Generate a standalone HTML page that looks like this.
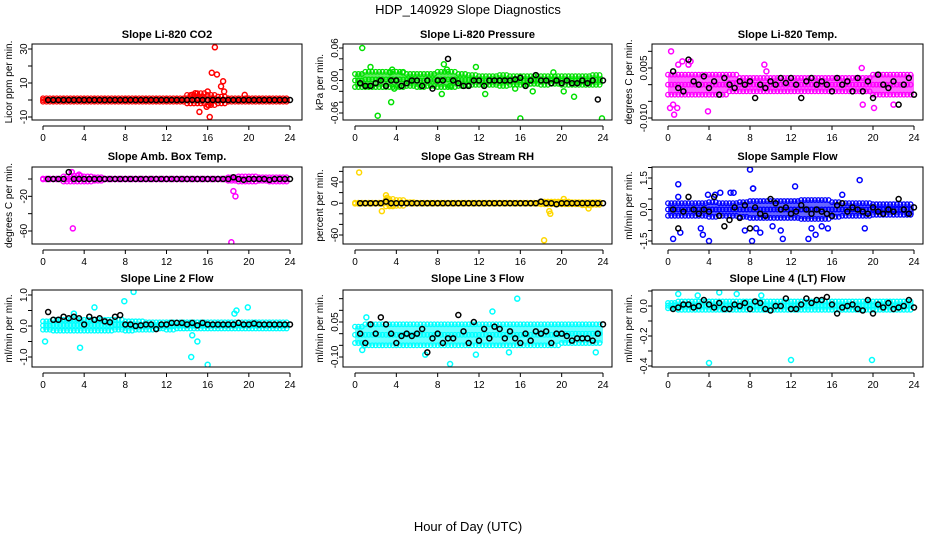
<!DOCTYPE html>
<html><head><meta charset="utf-8"><style>
body{margin:0;background:#fff;}
svg{display:block;font-family:"Liberation Sans",sans-serif;}
</style></head><body>
<svg id="chart" width="936" height="540" viewBox="0 0 936 540">
<text x="468" y="14" text-anchor="middle" font-size="13">HDP_140929  Slope Diagnostics</text>
<text x="468" y="531" text-anchor="middle" font-size="13">Hour of Day (UTC)</text>
</svg>
<script>
// ---- data ----
const xTicks=[0,4,8,12,16,20,24];
const titles=["Slope Li-820 CO2","Slope Li-820 Pressure","Slope Li-820 Temp.","Slope Amb. Box Temp.","Slope Gas Stream RH","Slope Sample Flow","Slope Line 2 Flow","Slope Line 3 Flow","Slope Line 4 (LT) Flow"];
const yTitles=["Licor ppm per min.","kPa per min.","degrees C per min.","degrees C per min.","percent per min.","ml/min per min.","ml/min per min.","ml/min per min.","ml/min per min."];
const colors=["#ff0000","#00e000","#ff00ff","#ff00ff","#ffd700","#0000ff","#00ffff","#00ffff","#00ffff"];
const yTicks=[[30,20,10,0,-10],[0.06,0.04,0.02,0,-0.02,-0.04,-0.06],[0.01,0.005,0,-0.005,-0.01],[0,-20,-40,-60],[60,40,20,0,-20,-40,-60],[2,1.5,1,0.5,0,-0.5,-1,-1.5],[1,0.5,0,-0.5,-1],[0.15,0.1,0.05,0,-0.05,-0.1],[0.1,0,-0.1,-0.2,-0.3,-0.4]];
const yLabels=[["30","10","-10"],["0.06","0.00","-0.06"],["0.005","-0.010"],["-20","-60"],["40","0","-60"],["1.5","0.0","-1.5"],["1.0","0.0","-1.0"],["0.05","-0.10"],["0.0","-0.2","-0.4"]];
const yLabelVals=[[30,10,-10],[0.06,0,-0.06],[0.005,-0.01],[-20,-60],[40,0,-60],[1.5,0,-1.5],[1,0,-1],[0.05,-0.1],[0,-0.2,-0.4]];
const black1=[0,0,0,0,0,0,0,0,0,0,0,0,0,0,0,0,0,0,0,0,0,0,0,0,0,0,0,0,0,0,0,0,0,0,0,0,0,0,0,0,0,0,0,0,0,0,0,0];
const black2=[-0.005,-0.01,-0.01,-0.005,0,-0.01,0,0,-0.01,-0.005,0,0,-0.01,0,-0.015,0,0,0.04,0,-0.005,-0.01,-0.01,0,0,-0.01,0,0,0,0,0,0.002,0.005,-0.01,0,0.01,0,0,-0.005,0,-0.005,0,-0.005,-0.005,0,-0.005,0,-0.035,0];
const black3=[0.004,-0.001,-0.002,0.0075,0.001,0,0.0025,-0.001,0.001,-0.003,0.002,0,-0.001,0.001,0,0.001,-0.004,0,-0.001,0.001,0,0.002,0.0005,0.002,0,-0.004,0.001,0.002,0,0.001,0,-0.002,0.002,0,0.001,-0.002,0.002,-0.002,0.001,-0.004,0.003,0,-0.001,0.001,-0.006,0,0.002,-0.003];
const black4=[0,0,0,0,8,0,0,0,0,0,0,0,0,0,0,0,0,0,0,0,0,0,0,0,0,0,0,0,0,0,0,0,0,0,0,0,2,0,-1,0,0,0,0,-1,0,0,0,0];
const black5=[0,0,0,0,0,3,0,0,0,0,0,0,0,0,0,0,0,0,0,0,0,0,0,0,0,0,0,0,0,0,0,0,0,0,0,3,0,0,-2,0,0,0,0,0,0,0,0,0];
const black6=[0,-0.9,-0.1,0.6,0,-0.2,0,-0.1,0.6,-0.3,-0.8,-0.5,0.1,-0.4,0.2,-0.9,0.1,-0.2,-0.3,0.5,0.3,0,0.1,-0.2,-0.1,0.2,0,-0.2,0,-0.1,-0.2,-0.3,0.2,0.3,-0.1,0.1,0,-0.1,-0.2,0.1,-0.1,-0.2,0,-0.1,0.5,0,-0.2,0.1];
const black7=[0.45,0.2,0.2,0.3,0.25,0.3,0.25,0.05,0.3,0.2,0.25,0.15,0.12,0.3,0.35,0.05,0.05,0,0.02,0.05,0.05,-0.1,0.05,0.05,0.1,0.1,0.1,0.05,0.1,0.02,0.1,0.05,0.05,0.05,0.05,0.05,0.05,0.1,0.05,0.05,0.08,0.05,0.05,0.05,0.05,0.05,0.05,0.05];
const black8=[0,-0.04,0.04,0,0.07,0.04,0,-0.04,-0.01,0,-0.01,0,0.02,-0.08,-0.02,0,-0.04,-0.02,-0.02,0.08,0.01,-0.04,0.05,-0.03,0.02,-0.02,0.03,0.02,-0.02,0.01,-0.02,-0.04,0,-0.03,0.01,0,0.01,-0.04,0,0,-0.01,-0.03,-0.02,-0.02,-0.02,-0.03,0,0.04];
const black9=[-0.02,-0.01,0.01,0.01,-0.01,0,0.04,0.01,-0.01,0.02,-0.02,-0.02,0.01,0,0.02,-0.02,0.03,0.02,-0.02,-0.03,0,0,0.05,-0.02,-0.02,0.01,0.05,0.02,0.04,0.04,0.06,0.01,-0.05,-0.01,0,0.01,-0.02,-0.03,0.04,-0.05,0.01,-0.01,0.02,-0.02,-0.01,0,0.04,-0.01];
const blacks=[black1,black2,black3,black4,black5,black6,black7,black8,black9];
const bandLo=[
[-1,-1,-1,-1,-1,-1,-1,-1,-1,-1,-1,-1,-1,-1,-2,-2,-3,-2,-1,-1,-1,-1,-1,-1,-1],
[-0.012,-0.012,-0.012,-0.012,-0.012,-0.01,-0.012,-0.01,-0.012,-0.012,-0.01,-0.008,-0.008,-0.008,-0.01,-0.008,-0.008,-0.006,-0.008,-0.006,-0.008,-0.008,-0.008,-0.008,-0.008],
[-0.003,-0.003,-0.003,-0.003,-0.003,-0.003,-0.002,-0.002,-0.002,-0.002,-0.002,-0.002,-0.002,-0.002,-0.002,-0.002,-0.002,-0.002,-0.002,-0.002,-0.003,-0.003,-0.003,-0.003,-0.003],
[-0.5,-0.5,-3,-3,-3,-2,-0.5,-0.5,-0.5,-0.5,-0.5,-0.5,-0.5,-0.5,-0.5,-0.5,-0.5,-0.5,-2,-3,-3,-2,-3,-3,-0.5],
[-1,-1,-1,-6,-5,-1,-1,-1,-1,-1,-1,-1,-1,-1,-1,-1,-1,-1,-2,-2,-2,-2,-4,-3,-1],
[-0.3,-0.3,-0.3,-0.3,-0.35,-0.3,-0.3,-0.35,-0.4,-0.4,-0.4,-0.4,-0.4,-0.45,-0.45,-0.45,-0.35,-0.3,-0.3,-0.3,-0.25,-0.25,-0.25,-0.25,-0.25],
[-0.12,-0.15,-0.15,-0.15,-0.15,-0.15,-0.15,-0.12,-0.15,-0.12,-0.12,-0.08,-0.12,-0.08,-0.08,-0.08,-0.08,-0.08,-0.08,-0.08,-0.08,-0.08,-0.08,-0.08,-0.08],
[-0.04,-0.05,-0.05,-0.05,-0.05,-0.05,-0.05,-0.05,-0.05,-0.05,-0.05,-0.05,-0.05,-0.05,-0.05,-0.05,-0.05,-0.05,-0.05,-0.05,-0.04,-0.04,-0.04,-0.04,-0.04],
[-0.015,-0.025,-0.025,-0.025,-0.025,-0.025,-0.025,-0.025,-0.025,-0.025,-0.025,-0.025,-0.025,-0.025,-0.025,-0.025,-0.025,-0.025,-0.025,-0.025,-0.025,-0.025,-0.025,-0.025,-0.015]];
const bandHi=[
[1,1,1,1,1,1,1,1,1,1,1,1,1,1,3,4,3,2,1,1,1,1,1,1,1],
[0.012,0.016,0.016,0.016,0.016,0.012,0.012,0.012,0.016,0.016,0.012,0.01,0.008,0.008,0.01,0.008,0.008,0.008,0.008,0.008,0.008,0.008,0.008,0.01,0.008],
[0.003,0.003,0.003,0.003,0.003,0.003,0.003,0.002,0.002,0.002,0.002,0.002,0.002,0.002,0.002,0.002,0.002,0.002,0.002,0.002,0.003,0.003,0.003,0.003,0.003],
[0.5,0.5,3,4,3,2,0.5,0.5,0.5,0.5,0.5,0.5,0.5,0.5,0.5,0.5,0.5,0.5,2,3,3,2,2,2,0.5],
[1,1,1,8,6,2,1,1,1,1,1,1,1,1,1,1,1,1,3,3,3,2,2,2,1],
[0.3,0.3,0.3,0.3,0.35,0.3,0.3,0.35,0.4,0.4,0.4,0.4,0.4,0.45,0.45,0.45,0.35,0.3,0.3,0.3,0.25,0.25,0.25,0.25,0.25],
[0.15,0.2,0.2,0.2,0.2,0.2,0.2,0.2,0.15,0.15,0.12,0.12,0.12,0.12,0.12,0.12,0.12,0.12,0.12,0.12,0.12,0.12,0.12,0.12,0.12],
[0.03,0.04,0.04,0.04,0.04,0.04,0.04,0.04,0.04,0.04,0.04,0.04,0.04,0.04,0.04,0.04,0.04,0.04,0.04,0.04,0.04,0.04,0.04,0.04,0.03],
[0.02,0.03,0.03,0.03,0.03,0.03,0.03,0.03,0.03,0.03,0.03,0.03,0.03,0.03,0.03,0.03,0.03,0.03,0.03,0.03,0.03,0.03,0.03,0.03,0.02]];
const outX=[
[14.5,14.8,15.2,15.5,16.0,16.2,16.4,16.5,16.7,16.9,17.3,17.5,17.6,19.6,15.9,16.1],
[0.7,1.2,1.5,2.2,3.5,3.6,3.8,4.6,8.4,8.6,8.9,9.2,11.7,12.6,15.5,16.0,17.2,19.2,20.2,21.2,23.9,3.4],
[0.3,0.5,0.6,0.9,1.0,1.4,2.0,2.2,3.9,9.4,9.6,18.9,19.0,0.2,20.1,22.0],
[2.9,3.5,18.5,18.7,2.8,18.3],
[0.4,3.0,3.1,3.5,2.6,18.8,18.9,18.3,20.2,22.6],
[0.5,1.0,1.2,1.0,3.2,3.4,3.9,4.0,4.6,5.1,6.1,6.4,7.5,8.0,8.2,8.3,9.0,10.2,11.0,11.2,12.4,13.7,14.0,14.4,15.0,15.6,17.0,18.7,19.2,8.6,8.3],
[0.2,3.0,3.6,5.0,7.9,8.8,14.4,14.5,15.0,16.0,19.9,18.6,18.8],
[1.1,0.7,9.2,11.7,13.3,15.7,14.9,23.3,6.8,0.9],
[4.0,12.0,19.9,1.0,2.9,5.0,6.7,9.1]];
const outY=[
[3,4,-7,2,5,-10,16,1,31,15,8,11,5,3,-4,-3],
[0.06,-0.01,0.025,-0.065,-0.04,0.02,-0.015,0.015,-0.025,0.03,0.02,-0.01,0.025,-0.025,-0.015,-0.07,-0.02,0.015,-0.02,-0.03,-0.07,0.015],
[0.01,-0.006,-0.009,-0.007,0.006,0.007,0.006,0.007,-0.008,0.006,0.004,0.005,-0.006,-0.007,-0.007,-0.006],
[-57,5,-14,-20,8,-73],
[58,15,10,-5,-15,-15,-20,-70,8,-10],
[-1.4,1.2,-1.1,0.6,-0.9,-1.2,0.7,-1.5,0.7,0.8,0.8,0.8,-1.0,1.9,-1.5,1.0,-1.1,-0.8,-1.0,-1.4,1.1,-1.4,-0.9,-1.2,-0.8,-0.9,0.7,1.4,-0.9,-0.9,1.0],
[-0.5,0.4,-0.7,0.6,0.8,1.1,-1.0,-0.3,-0.5,-1.25,0.6,0.4,0.5],
[0.07,-0.07,-0.13,-0.09,0.095,0.15,-0.08,-0.08,-0.09,-0.05],
[-0.38,-0.36,-0.36,0.08,0.07,0.09,0.08,0.07]];

// ---- layout (pixels) ----
const cols=[{l:32,r:302,x0:43,x24:290},{l:343,r:612,x0:355,x24:603},{l:652,r:923,x0:668,x24:914}];
const rows=[{t:44,b:120,title:34},{t:167,b:244,title:156},{t:290,b:367,title:278}];
const yA=[[30,49,-10,117],[0.06,48,-0.06,113],[0.005,68,-0.01,118],[0,179,-60,231],[40,182,-60,235],[1.5,178,-1.5,241],[1,295,-1,357],[0.05,322,-0.1,357],[0,306,-0.4,366]];

const NS="http://www.w3.org/2000/svg";
const svg=document.getElementById('chart');
function mk(tag,attrs,parent){const e=document.createElementNS(NS,tag);for(const k in attrs)e.setAttribute(k,attrs[k]);(parent||svg).appendChild(e);return e;}

for(let p=0;p<9;p++){
  const c=cols[p%3], r=rows[Math.floor(p/3)], a=yA[p];
  const g=mk('g',{});
  
  
  const xs=h=>c.x0+(c.x24-c.x0)*h/24;
  const ys=v=>a[1]+(v-a[0])*(a[3]-a[1])/(a[2]-a[0]);
  const clip='clip'+p;
  const cp=mk('clipPath',{id:clip},g); mk('rect',{x:c.l,y:r.t,width:c.r-c.l,height:r.b-r.t},cp);
  const data=mk('g',{'clip-path':'url(#'+clip+')'},g);
  const lo=bandLo[p], hi=bandHi[p];
  let pts=[];
  for(let i=0;i<25;i++)pts.push(xs(i)+','+ys(hi[i]));
  for(let i=24;i>=0;i--)pts.push(xs(i)+','+ys(lo[i]));
  const band=mk('polygon',{points:pts.join(' '),fill:colors[p],'fill-opacity':0.6,stroke:'none'},data);
  
  
  for(let i=0;i<24;i++){for(let k=0;k<3;k++){const h=i+k/3;
    for(const v of [lo[i],hi[i],(lo[i]+hi[i])/2]){const cc=mk('circle',{cx:xs(h),cy:ys(v),r:2.3,fill:'none',stroke:colors[p],'stroke-width':1.3},data);
      
      }}}
  outX[p].forEach((h,i)=>{const cc=mk('circle',{cx:xs(h),cy:ys(outY[p][i]),r:2.5,fill:'none',stroke:colors[p],'stroke-width':1.5},data);
    
    });
  blacks[p].forEach((v,i)=>{const cc=mk('circle',{cx:xs(0.5*(i+1)),cy:ys(v),r:2.5,fill:'none',stroke:'#000','stroke-width':1.5},data);
    
    });
  const box=mk('rect',{x:c.l,y:r.t,width:c.r-c.l,height:r.b-r.t,fill:'none',stroke:'#000','stroke-width':1},g);
  
  
  const t=mk('text',{x:(c.l+c.r)/2,y:r.title+4,'text-anchor':'middle','font-size':11,'font-weight':'bold'},g);
  t.textContent=titles[p];
  
  
  mk('line',{x1:xs(0),x2:xs(24),y1:r.b+6,y2:r.b+6,stroke:'#000'},g);
  xTicks.forEach(h=>{mk('line',{x1:xs(h),x2:xs(h),y1:r.b+6,y2:r.b+10,stroke:'#000'},g);
    const tl=mk('text',{x:xs(h),y:r.b+21,'text-anchor':'middle','font-size':10},g);
    tl.textContent=h;
    
    });
  const yt=yTicks[p];
  const ax=c.l;
  yt.forEach(v=>mk('line',{x1:ax-4,x2:ax,y1:ys(v),y2:ys(v),stroke:'#000'},g));
  yLabels[p].forEach((s,i)=>{const y=ys(yLabelVals[p][i]);
    const tl=mk('text',{x:ax-5,y:y,'text-anchor':'middle','font-size':10,transform:'rotate(-90 '+(ax-5)+' '+y+')'},g);
    tl.textContent=s;
    
    });
  const ym=(r.t+r.b)/2, yx=c.l-20;
  const yl=mk('text',{x:yx,y:ym,'text-anchor':'middle','font-size':10,transform:'rotate(-90 '+yx+' '+ym+')'},g);
  yl.textContent=yTitles[p];
  
  
}
</script>
</body></html>
